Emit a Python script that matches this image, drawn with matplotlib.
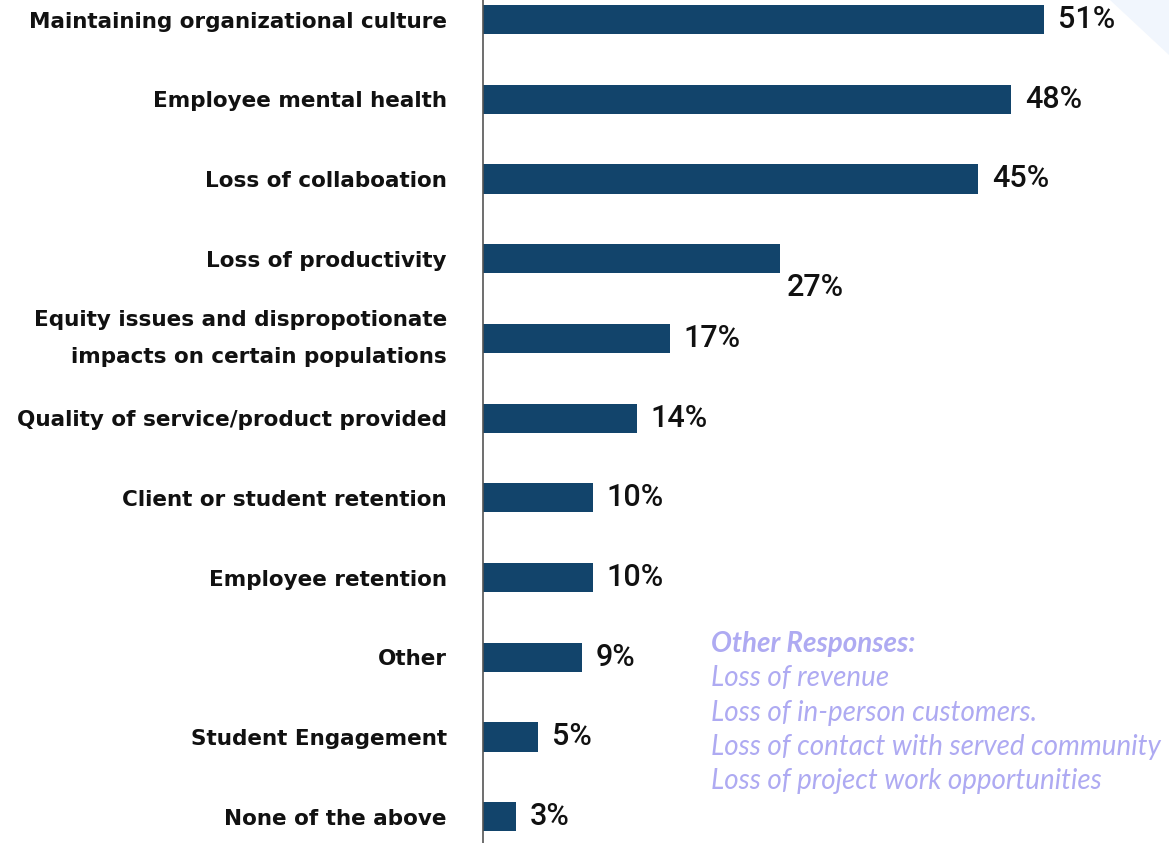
import matplotlib.pyplot as plt
from matplotlib.patches import Polygon

# survey results: concerns about remote work
categories = [
    "Maintaining organizational culture",
    "Employee mental health",
    "Loss of collaboation",
    "Loss of productivity",
    "Equity issues and dispropotionate\nimpacts on certain populations",
    "Quality of service/product provided",
    "Client or student retention",
    "Employee retention",
    "Other",
    "Student Engagement",
    "None of the above",
]
percents = [51, 48, 45, 27, 17, 14, 10, 10, 9, 5, 3]

other_title = "Other Responses:"
other_responses = [
    "Loss of revenue",
    "Loss of in-person customers.",
    "Loss of contact with served community",
    "Loss of project work opportunities",
]

W, H = 1169, 843
fig = plt.figure(figsize=(W / 100, H / 100), dpi=100)

# faint corner decoration
fig.patches.append(Polygon([(1110 / W, 1.0), (1.0, 1.0), (1.0, 1 - 55 / H)],
                           closed=True, transform=fig.transFigure,
                           facecolor='#f1f6fd', edgecolor='none', zorder=0))

ax = fig.add_axes([483 / W, 0, (W - 483) / W, 1])
ax.patch.set_alpha(0)

ypos = list(range(len(categories)))
ax.barh(ypos, percents, height=0.365, color='#12446b', zorder=2)

ax.set_ylim(10.33, -0.245)
ax.set_xlim(0, (W - 483) / 11.0)

for s in ['top', 'right', 'bottom']:
    ax.spines[s].set_visible(False)
ax.spines['left'].set_color('#555555')
ax.spines['left'].set_linewidth(1.2)
ax.set_xticks([])
ax.set_yticks(ypos)
ax.set_yticklabels(categories, fontsize=15.5, fontweight='bold',
                   family='DejaVu Sans', color='#111111', linespacing=2.05)
ax.tick_params(axis='y', length=0, pad=26)
# two-line label: center the block on its bar
for lbl in ax.get_yticklabels():
    if '\n' in lbl.get_text():
        lbl.set_va('center')

# value labels to the right of each bar
for i, v in enumerate(percents):
    dx, dy = 10, 0
    if categories[i] == "Loss of productivity":
        dx, dy = 5, -21
    ax.annotate(f"{v}%", (v, i), xytext=(dx, dy), textcoords='offset points',
                ha='left', va='center', fontsize=22, family='Roboto',
                fontweight='medium', color='#111111')

# other responses note
note_color = '#aeaaf2'
fig.text(711 / W, 1 - 644 / H, other_title, fontsize=20, family='Lato',
         style='italic', fontweight='bold', color=note_color, va='center')
for k, line in enumerate(other_responses):
    fig.text(711 / W, 1 - (678 + 34.5 * k) / H, line, fontsize=20,
             family='Lato', style='italic', color=note_color, va='center')

plt.savefig('out.png', dpi=100)
